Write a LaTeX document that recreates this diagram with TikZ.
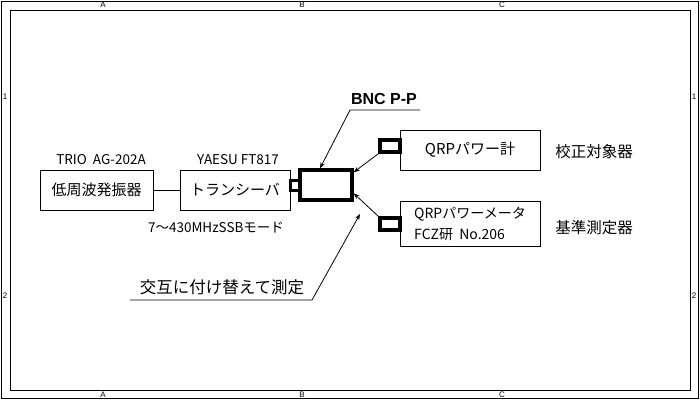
\documentclass[tikz,border=0pt]{standalone}
\usepackage{fontspec}
\setmainfont{Noto Sans CJK JP}
\newfontfamily\latinsans{Liberation Sans}
\usetikzlibrary{arrows.meta,calc}
\tikzset{
  box/.style={draw, line width=1pt, inner sep=0pt, font=\fontsize{15}{17}\selectfont},
  conn/.style={draw, line width=3.4pt, inner sep=0pt},
  lbl/.style={inner sep=0pt, font=\fontsize{13.5}{15}\selectfont},
  jlbl/.style={inner sep=0pt, font=\fontsize{15.5}{17}\selectfont},
  grid/.style={inner sep=0pt, font=\latinsans\fontsize{8}{9}\selectfont},
  arr/.style={line width=0.8pt, -{Stealth[length=6pt,width=4.5pt]}},
  thin/.style={line width=0.8pt}
}
\begin{document}
\begin{tikzpicture}[x=1pt,y=-1pt]
\useasboundingbox (0,0) rectangle (700,400);
\draw[line width=1pt] (1,1) rectangle (698.5,398.5);
\draw[line width=1pt] (10,10) rectangle (690,390);
% grid labels
\node[grid] (gat) at (103,5) {A};
\node[grid] (gbt) at (302,5) {B};
\node[grid] (gct) at (502,5) {C};
\node[grid] (gab) at (103,395) {A};
\node[grid] (gbb) at (302,395) {B};
\node[grid] (gcb) at (502,395) {C};
\node[grid] (g1l) at (5,97) {1};
\node[grid] (g2l) at (5,296) {2};
\node[grid] (g1r) at (694,97) {1};
\node[grid] (g2r) at (694,296) {2};
% boxes
\node[box, minimum width=113pt, minimum height=40pt] (osc) at (96.5,190) {低周波発振器};
\node[box, minimum width=110pt, minimum height=40pt] (trx) at (235,190) {トランシーバ};
\node[conn, line width=3.4pt, minimum width=52pt, minimum height=30pt] (bnc) at (326,185) {};
\node[box, minimum width=140pt, minimum height=40pt, font=\fontsize{15}{17}\selectfont] (q1) at (470,150) {QRPパワー計};
\node[box, minimum width=140pt, minimum height=45pt, align=left, font=\fontsize{14}{21}\selectfont] (q2) at (470,224) {QRPパワーメータ\\FCZ研\ \ No.206};
% connectors
\node[conn, line width=3pt, minimum width=10pt, minimum height=10pt] (tc) at (295,185) {};
\node[conn, minimum width=20pt, minimum height=12pt] (q1c) at (390,146) {};
\node[conn, minimum width=20pt, minimum height=12pt] (q2c) at (390,224) {};
% labels
\node[lbl] (trio) at (101,160) {TRIO\ \ AG-202A};
\node[lbl] (yaesu) at (238,160) {YAESU FT817};
\node[lbl] (band) at (216,228) {7～430MHzSSBモード};
\node[jlbl] (tgt) at (594,152) {校正対象器};
\node[jlbl] (ref) at (594,228) {基準測定器};
\node[inner sep=0pt, font=\latinsans\bfseries\fontsize{16}{18}\selectfont] (bnclbl) at (384,99) {BNC P-P};
\node[inner sep=0pt, font=\fontsize{16.5}{18}\selectfont] (swlbl) at (222,287) {交互に付け替えて測定};
% connection line
\draw[thin] (osc.east) -- (trx.east -| trx.west);
% arrows from connectors
\coordinate (b1) at ($(bnc.north east)!0.12!(bnc.south east)$);
\coordinate (b2) at ($(bnc.north east)!0.75!(bnc.south east)$);
\draw[arr] (q1c.south west) -- (b1);
\draw[arr] (q2c.north west) -- (b2);
% BNC leader
\coordinate (bul) at (350,110);
\coordinate (bur) at (420,110);
\draw[arr] (bur) -- (bul) -- ($(bnc.north)+(-6,0)$);
% bottom leader
\coordinate (sul) at (130,300);
\coordinate (sur) at (312,300);
\coordinate (stip) at (360,214);
\draw[arr] (sul) -- (sur) -- (stip);
\end{tikzpicture}
\end{document}
